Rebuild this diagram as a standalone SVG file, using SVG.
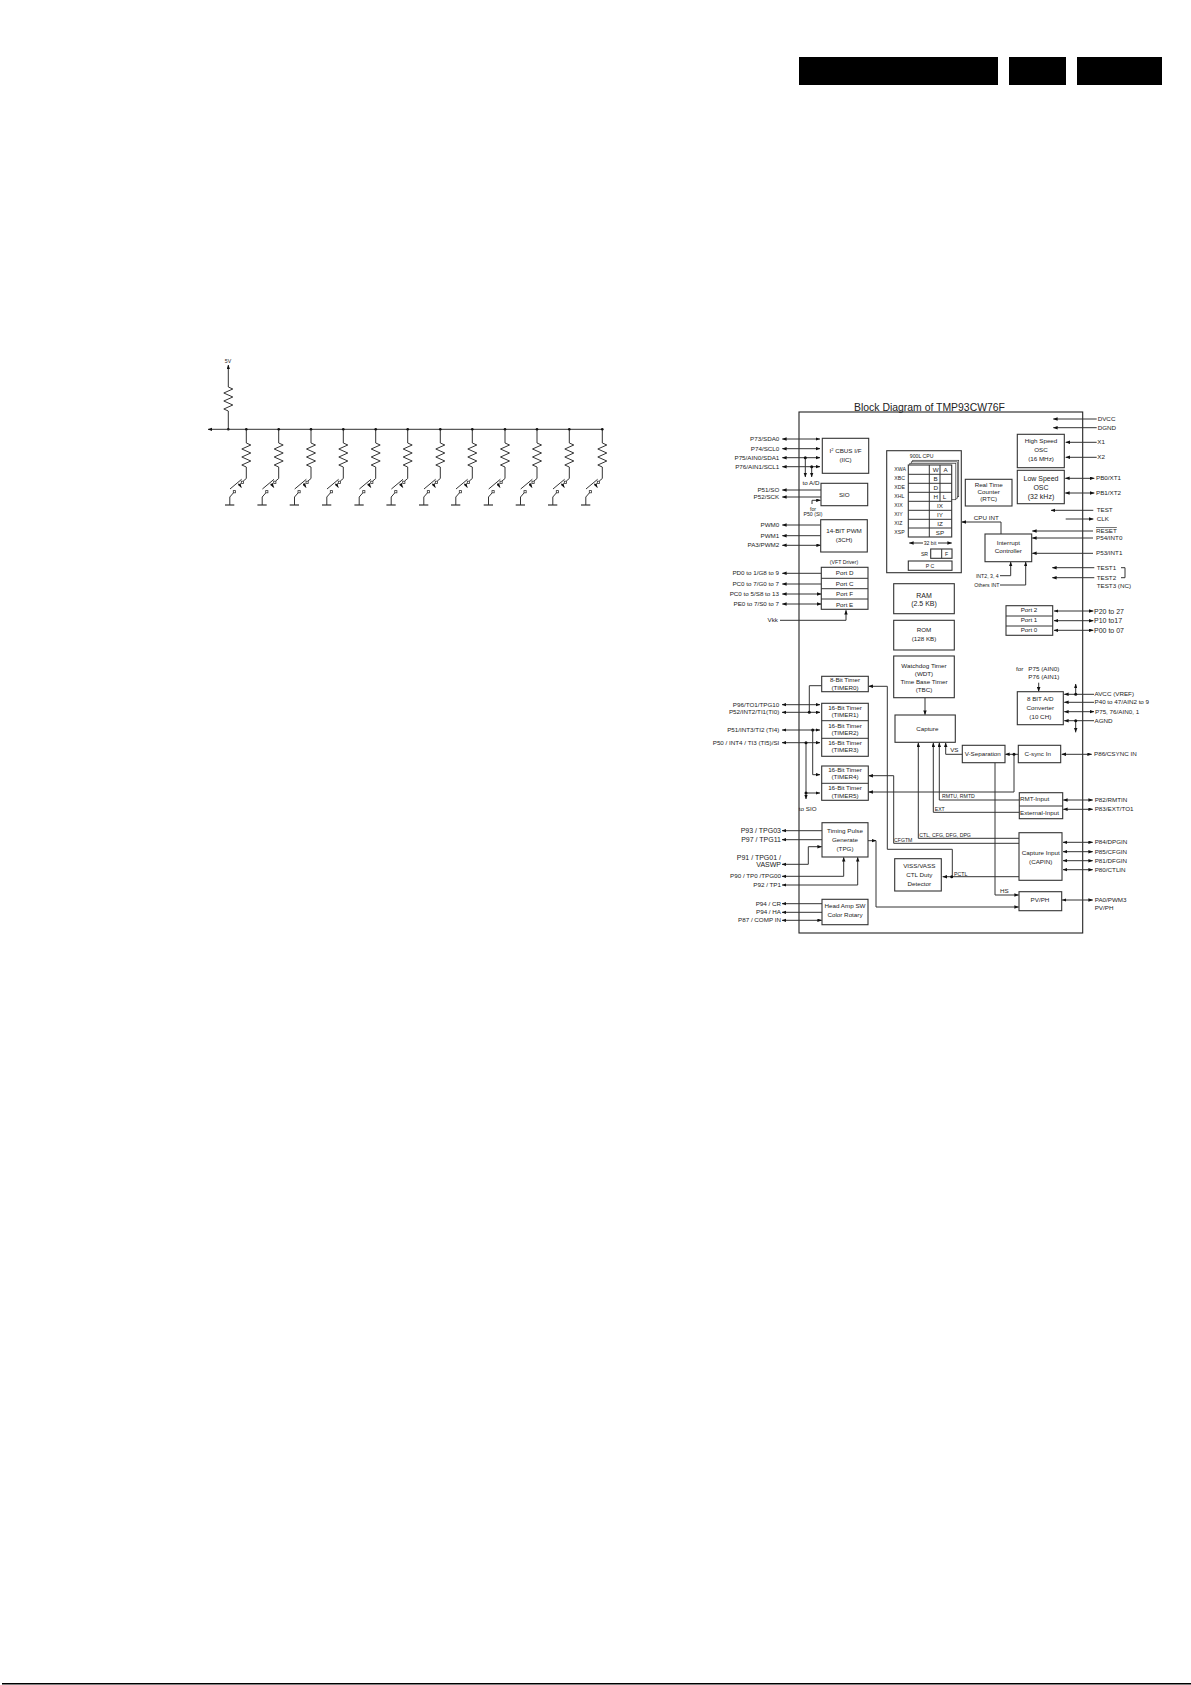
<svg xmlns="http://www.w3.org/2000/svg" xmlns:xlink="http://www.w3.org/1999/xlink" width="1191" height="1685" viewBox="0 0 1191 1685">
<style>
text{font-family:"Liberation Sans",Arial,sans-serif;font-size:6.25px;fill:#222}
.m{text-anchor:middle}.e{text-anchor:end}.s5{font-size:5.2px}.s7{font-size:7px}
.b rect,rect.b{fill:#fff;stroke:#333;stroke-width:1.1}
.b rect.st{stroke-width:.7}
path{fill:none;stroke:#333;stroke-width:1}
.l{marker-start:url(#a)}.r{marker-end:url(#a)}
.lr{marker-start:url(#a);marker-end:url(#a)}
circle{fill:#111;stroke:none}
.k{fill:#000;stroke:none}
</style>
<defs>
<marker id="a" viewBox="0 0 8 6" refX="7.5" refY="3" markerWidth="4.6" markerHeight="3.6" markerUnits="userSpaceOnUse" orient="auto-start-reverse"><path d="M0,0L8,3L0,6Z" style="fill:#111;stroke:none"/></marker>
<path id="zz" d="M0,0l4.5,2l-9,4l9,4l-9,4l9,4l-9,4l4.5,2"/>
<g id="key">
<path d="M0,429.3V443"/><use xlink:href="#zz" y="443"/>
<path d="M0,467V478.5L-3,481"/>
<path d="M-16.3,489L-4.7,479.3"/>
<path class="r" d="M-7.5,483.5L-5,487.5"/>
<rect x="-5" y="481.2" width="2.2" height="2.2" style="fill:#fff;stroke:#333;stroke-width:.8"/>
<rect x="-13" y="490.6" width="2.2" height="2.2" style="fill:#fff;stroke:#333;stroke-width:.8"/>
<path d="M-13,493L-16.5,497V505"/>
<path d="M-21.3,505H-12" style="stroke-width:1.2"/>
<circle cx="0" cy="429.3" r="1.3"/>
</g>
</defs>
<rect width="1191" height="1685" fill="#fff"/>

<g id="header">
<rect class="k" x="799" y="57" width="199" height="28"/>
<rect class="k" x="1009" y="57" width="57" height="28"/>
<rect class="k" x="1077" y="57" width="85" height="28"/>
<rect class="k" x="2" y="1683" width="1189" height="1.5"/>
</g>

<g id="keypad">
<text class="m s5" x="228" y="362.5">5V</text>
<path class="r" d="M228.3,387V365"/><use xlink:href="#zz" x="228.3" y="387"/>
<path d="M228.3,411V429.3"/><circle cx="228.3" cy="429.3" r="1.3"/>
<path class="r" d="M602.3,429.3H208"/>
<use xlink:href="#key" x="246.3"/><use xlink:href="#key" x="278.7"/><use xlink:href="#key" x="311"/><use xlink:href="#key" x="343.3"/><use xlink:href="#key" x="375.7"/><use xlink:href="#key" x="407.7"/><use xlink:href="#key" x="440.3"/><use xlink:href="#key" x="472.3"/><use xlink:href="#key" x="505"/><use xlink:href="#key" x="537"/><use xlink:href="#key" x="569.3"/><use xlink:href="#key" x="602.3"/>
</g>

<text id="title" x="854" y="411" style="font-size:11px" textLength="151" lengthAdjust="spacingAndGlyphs">Block Diagram of TMP93CW76F</text>
<rect id="frame" x="799" y="412" width="283.7" height="521" fill="none" stroke="#222" stroke-width="1.1"/>

<g id="connectors">
<path class="lr" d="M782.3,439H820"/><path class="lr" d="M782.3,448.7H820"/><path class="lr" d="M782.3,457.7H820"/><path class="lr" d="M782.3,466.7H820"/>
<path class="r" d="M805.3,457.7V477"/><path class="r" d="M811.7,466.7V477"/>
<path class="l" d="M782.3,490H821"/><path class="l" d="M782.3,497H821"/>
<path class="r" d="M812,504V500.3H820.5"/>
<path class="l" d="M782.3,525H820.7"/><path class="l" d="M782.3,535.7H820.7"/><path class="lr" d="M782.3,545.3H820.7"/>
<path class="l" d="M782.3,573.3H821.3"/><path class="l" d="M782.3,584H821.3"/><path class="lr" d="M782.3,594H821.3"/><path class="lr" d="M782.3,604H821.3"/>
<path class="r" d="M780,620.3H846V610.3"/>
<path class="r" d="M1096.7,419H1053.3"/><path class="r" d="M1096.7,427.7H1053.3"/>
<path class="r" d="M1096.7,442.3H1065.7"/><path class="r" d="M1096.7,457.3H1065.7"/>
<path class="lr" d="M1065.3,478.3H1094.3"/><path class="lr" d="M1065.3,493H1094.3"/>
<path class="r" d="M1093.3,510.3H1051"/><path class="r" d="M1065.7,519H1093.3"/>
<path class="r" d="M1093,531H1032.3"/><path class="r" d="M1093,538H1032.3"/><path class="r" d="M1093,553.3H1032.3"/>
<path class="r" d="M1094.3,567.7H1052.3"/><path class="r" d="M1094.3,577.7H1052.3"/>
<path d="M1121,567.7H1125V577.7H1121"/>
<path class="lr" d="M1054,611H1093.3"/><path class="lr" d="M1054,620.7H1093.3"/><path class="lr" d="M1054,630.3H1093.3"/>
<path class="r" d="M1001,534V522H961.8"/>
<path class="r" d="M1000,575.7H1010.7V562"/><path class="r" d="M1000,585H1025.7V562"/>
<path class="lr" d="M782,704.7H820"/><path class="lr" d="M782,712.3H820"/><path class="lr" d="M782,730H820"/><path class="lr" d="M782,742.7H820"/>
<path d="M821.7,685.7H809.3V712.3"/>
<path class="r" d="M812.7,730V774.7H820"/>
<path class="r" d="M806,742.7V799"/><path class="r" d="M806,793H820"/>
<path class="r" d="M952.3,876.7V849.3H887.3V686.3H868.6"/>
<path class="r" d="M1019,843.3H893.7V775.7H868.6"/>
<path class="r" d="M1014,754.3V792H868.6"/>
<path class="r" d="M1018.3,754.3H1005.3"/>
<path class="r" d="M1019,838.3H918.3V742.7"/>
<path class="r" d="M1019.3,812.3H933.3V742.7"/>
<path class="r" d="M1019.3,800H939.3V742.7"/>
<path class="r" d="M962.3,754.3H945.7V742.7"/>
<path class="r" d="M995,762.7V895H1018.7"/>
<path class="r" d="M868,840.7H876"/>
<path class="r" d="M876,840.7V907H1018.7"/>
<path class="r" d="M1019,876.7H942.7"/>
<path class="r" d="M925,697.7V714.7"/>
<path class="r" d="M1038.7,682.7V691.4"/>
<path class="r" d="M1094,694.3H1064.3"/><path class="r" d="M1094,702.3H1064.3"/><path class="lr" d="M1064.3,711.7H1094"/><path class="r" d="M1094,720.7H1064.3"/>
<path class="r" d="M1075.7,694.3V684"/><path class="r" d="M1075.7,720.7V732.3"/>
<path class="lr" d="M1061.7,754.3H1091.7"/><path class="lr" d="M1063.3,800H1092.7"/><path class="lr" d="M1063.3,809.3H1092.7"/><path class="lr" d="M1063,842.3H1092.7"/><path class="lr" d="M1063,851.7H1092.7"/><path class="lr" d="M1063,860.7H1092.7"/><path class="lr" d="M1063,869.7H1092.7"/><path class="lr" d="M1062,900H1092.7"/>
<path class="l" d="M782,830.7H822"/><path class="l" d="M782,839.7H822"/>
<path class="lr" d="M782,864.3H808.3V846.7H821.7"/>
<path class="lr" d="M782,876.3H843.7V857.3"/><path class="lr" d="M782,885H857.7V857.3"/>
<path class="l" d="M782,903.7H822"/><path class="l" d="M782,912.3H822"/><path class="lr" d="M782,920.3H821.7"/>
<circle cx="805.3" cy="457.7" r="1.5"/><circle cx="811.7" cy="466.7" r="1.5"/>
<circle cx="809.3" cy="712.3" r="1.5"/><circle cx="812.7" cy="730" r="1.5"/><circle cx="806" cy="742.7" r="1.5"/><circle cx="806" cy="793" r="1.5"/>
<circle cx="951.7" cy="876.7" r="1.5"/><circle cx="1014" cy="754.3" r="1.5"/><circle cx="1075.7" cy="694.3" r="1.5"/><circle cx="1075.7" cy="720.7" r="1.5"/>
<text class="m" x="811" y="485">to A/D</text>
<text class="m s5" x="813" y="510.5">for</text><text class="m s5" x="813" y="515.5">P50 (SI)</text>
<text class="m" x="807.7" y="810.5">to SIO</text>
<text class="m" x="986.3" y="520">CPU INT</text>
<text class="e s5" x="998.7" y="577.5">INT2, 3, 4</text><text class="e s5" x="999.5" y="587">Others INT</text>
<text x="919.3" y="836.5" class="s5">CTL, CFG, DFG, DPG</text>
<text x="934.7" y="810.5" class="s5">EXT</text>
<text x="942" y="798" class="s5">RMTU, RMTD</text>
<text class="m" x="954.3" y="752">VS</text><text class="m" x="1004.3" y="893">HS</text>
<text x="894" y="842" class="s5">CFGTM</text>
<text x="954" y="875.5" class="s5">PCTL</text>
</g>

<g id="left-labels">
<text class="e" x="779.3" y="441">P73/SDA0</text><text class="e" x="779.3" y="450.7">P74/SCL0</text><text class="e" x="779.3" y="459.7">P75/AIN0/SDA1</text><text class="e" x="779.3" y="468.7">P76/AIN1/SCL1</text>
<text class="e" x="779.3" y="492">P51/SO</text><text class="e" x="779.3" y="499">P52/SCK</text>
<text class="e" x="779.3" y="527">PWM0</text><text class="e" x="779.3" y="537.7">PWM1</text><text class="e" x="779.3" y="547.3">PA3/PWM2</text>
<text class="e" x="779" y="575.3">PD0 to 1/G8 to 9</text><text class="e" x="779" y="586">PC0 to 7/G0 to 7</text><text class="e" x="779" y="596">PC0 to 5/S8 to 13</text><text class="e" x="779" y="606">PE0 to 7/S0 to 7</text>
<text class="e" x="778" y="622.3">Vkk</text>
<text class="e" x="779.3" y="706.7">P96/TO1/TPG10</text><text class="e" x="779.3" y="714.3">P52/INT2/TI1(TI0)</text><text class="e" x="779.3" y="732">P51/INT3/TI2 (TI4)</text><text class="e" x="779.3" y="744.7">P50 / INT4 / TI3 (TI5)/SI</text>
<text class="e s7" x="781" y="833">P93 / TPG03</text><text class="e s7" x="781" y="842">P97 / TPG11</text><text class="e s7" x="781" y="859.7">P91 / TPG01 /</text><text class="e s7" x="781" y="867.3">VASWP</text>
<text class="e" x="781" y="878.3">P90 / TP0  /TPG00</text><text class="e" x="781" y="887">P92 / TP1</text><text class="e" x="781" y="905.7">P94 / CR</text><text class="e" x="781" y="914.3">P94 / HA</text><text class="e" x="781" y="922.3">P87 / COMP IN</text>
</g>

<g id="right-labels">
<text x="1097.7" y="421">DVCC</text><text x="1097.7" y="429.7">DGND</text><text x="1097.3" y="444.3">X1</text><text x="1097.3" y="459.3">X2</text>
<text x="1096" y="480.3">PB0/XT1</text><text x="1096" y="495">PB1/XT2</text><text x="1096.7" y="512.3">TEST</text><text x="1096.7" y="521">CLK</text>
<text x="1096" y="533" text-decoration="overline">RESET</text><text x="1096" y="540">P54/INT0</text><text x="1096" y="555.3">P53/INT1</text>
<text x="1096.7" y="569.7">TEST1</text><text x="1096.7" y="579.7">TEST2</text><text x="1096.7" y="588">TEST3 (NC)</text>
<text class="s7" x="1094" y="613.5">P20 to 27</text><text class="s7" x="1094" y="623">P10 to17</text><text class="s7" x="1094" y="632.7">P00 to 07</text>
<text x="1016" y="671">for</text><text x="1028.3" y="671">P75 (AIN0)</text><text x="1028.3" y="679.3">P76 (AIN1)</text>
<text x="1094.5" y="696.3">AVCC (VREF)</text><text x="1094.5" y="704.3">P40 to 47/AIN2 to 9</text><text x="1095" y="713.7">P75, 76/AIN0, 1</text><text x="1094.5" y="722.7">AGND</text>
<text x="1094" y="756.3">P86/CSYNC IN</text><text x="1094.7" y="802">P82/RMTIN</text><text x="1094.7" y="811.3">P83/EXT/TO1</text>
<text x="1094.7" y="844.3">P84/DPGIN</text><text x="1094.7" y="853.7">P85/CFGIN</text><text x="1094.7" y="862.7">P81/DFGIN</text><text x="1094.7" y="871.7">P80/CTLIN</text>
<text x="1094.7" y="902">PA0/PWM3</text><text x="1094.7" y="909.5">PV/PH</text>
</g>

<g id="iic" class="b"><rect x="822.3" y="438.3" width="46.4" height="35"/><text class="m" x="845.5" y="453">I<tspan style="font-size:4px" dy="-2">2</tspan><tspan dy="2"> CBUS I/F</tspan></text><text class="m" x="845.5" y="462">(IIC)</text></g>
<g id="sio" class="b"><rect x="821" y="483.3" width="46.7" height="22.4"/><text class="m" x="844.3" y="496.5">SIO</text></g>
<g id="pwm" class="b"><rect x="820.7" y="519.7" width="46.6" height="32.3"/><text class="m" x="844" y="532.5">14-BIT PWM</text><text class="m" x="844" y="541.5">(3CH)</text></g>
<g id="ports-vft" class="b"><text class="m s5" x="844" y="564">(VFT Driver)</text><rect x="821.3" y="567.3" width="46.7" height="42"/><path d="M821.3,578.3H868M821.3,588.7H868M821.3,599H868"/><text class="m" x="844.6" y="575">Port D</text><text class="m" x="844.6" y="585.5">Port C</text><text class="m" x="844.6" y="596">Port F</text><text class="m" x="844.6" y="606.5">Port E</text></g>

<g id="cpu" class="b">
<rect x="886.7" y="450.7" width="74.6" height="122"/>
<rect class="st" x="912.7" y="460.3" width="46" height="36.4"/><rect class="st" x="911.3" y="461.8" width="46" height="36.4"/><rect class="st" x="909.8" y="463.3" width="46" height="36.4"/>
<rect x="908.3" y="465" width="43.4" height="72"/>
<path d="M908.3,474.3H951.7M908.3,483.3H951.7M908.3,492.3H951.7M908.3,501.3H951.7M908.3,510.3H951.7M908.3,519.3H951.7M908.3,528H951.7M929.3,465V537M940,465V501.3"/>
<text class="m s5" x="921.7" y="458">900L  CPU</text>
<text class="s5" x="894.3" y="471">XWA</text><text class="s5" x="894.3" y="480">XBC</text><text class="s5" x="894.3" y="489">XDE</text><text class="s5" x="894.3" y="498">XHL</text><text class="s5" x="894.3" y="507">XIX</text><text class="s5" x="894.3" y="516">XIY</text><text class="s5" x="894.3" y="525">XIZ</text><text class="s5" x="894.3" y="534">XSP</text>
<text class="m" x="935.7" y="472">W</text><text class="m" x="945.7" y="472">A</text><text class="m" x="935.7" y="481">B</text><text class="m" x="935.7" y="490">D</text><text class="m" x="935.7" y="499">H</text><text class="m" x="944.5" y="499">L</text>
<text class="m" x="940" y="508">IX</text><text class="m" x="940" y="517">IY</text><text class="m" x="940" y="525.7">IZ</text><text class="m" x="940" y="534.7">SP</text>
<path class="r" d="M923,543H909.3"/><path class="r" d="M938,543H951.7"/><text class="m s5" x="930" y="545">32 bit</text>
<text class="m s5" x="924.5" y="555.5">SR</text><rect x="930.7" y="549" width="21.3" height="9.3"/><path d="M941.7,549V558.3"/><text class="m s5" x="946.7" y="555.5">F</text>
<rect x="908.3" y="561" width="43.7" height="9.3"/><text class="m s5" x="930" y="567.5">P C</text>
</g>
<g id="ram" class="b"><rect x="893.7" y="583.7" width="60.6" height="30"/><text class="m s7" x="924" y="597.5">RAM</text><text class="m s7" x="924" y="606.2">(2.5 KB)</text></g>
<g id="rom" class="b"><rect x="893.7" y="620.3" width="60.6" height="29.7"/><text class="m" x="924" y="632">ROM</text><text class="m" x="924" y="640.5">(128 KB)</text></g>
<g id="wdt" class="b"><rect x="893.7" y="656" width="60.6" height="41.7"/><text class="m" x="924" y="667.5">Watchdog Timer</text><text class="m" x="924" y="675.5">(WDT)</text><text class="m" x="924" y="684">Time Base Timer</text><text class="m" x="924" y="692">(TBC)</text></g>
<g id="capture" class="b"><rect x="895" y="715" width="60.3" height="27.3"/><text class="m" x="927.3" y="731">Capture</text></g>
<g id="timer0" class="b"><rect x="821.7" y="676.3" width="46.6" height="15.4"/><text class="m" x="845" y="681.8">8-Bit Timer</text><text class="m" x="845" y="689.5">(TIMER0)</text></g>
<g id="timer123" class="b"><rect x="821.7" y="703.3" width="46.6" height="53"/><path d="M821.7,720.7H868.3M821.7,738.3H868.3"/><text class="m" x="845" y="709.5">16-Bit Timer</text><text class="m" x="845" y="717">(TIMER1)</text><text class="m" x="845" y="727.7">16-Bit Timer</text><text class="m" x="845" y="735">(TIMER2)</text><text class="m" x="845" y="744.7">16-Bit Timer</text><text class="m" x="845" y="752">(TIMER3)</text></g>
<g id="timer45" class="b"><rect x="821.7" y="766" width="46.6" height="34.3"/><path d="M821.7,783.3H868.3"/><text class="m" x="845" y="772">16-Bit Timer</text><text class="m" x="845" y="779.3">(TIMER4)</text><text class="m" x="845" y="790">16-Bit Timer</text><text class="m" x="845" y="797.7">(TIMER5)</text></g>
<g id="tpg" class="b"><rect x="822" y="822.7" width="46" height="34.3"/><text class="m" x="845" y="833">Timing Pulse</text><text class="m" x="845" y="842">Generate</text><text class="m" x="845" y="851">(TPG)</text></g>
<g id="viss" class="b"><rect x="894.7" y="858.7" width="46.6" height="32.3"/><text class="m" x="919.3" y="867.7">VISS/VASS</text><text class="m" x="919.3" y="876.7">CTL Duty</text><text class="m" x="919.3" y="885.7">Detector</text></g>
<g id="headamp" class="b"><rect x="822" y="899.3" width="46" height="25.4"/><text class="m" x="845" y="908">Head Amp SW</text><text class="m" x="845" y="917">Color Rotary</text></g>
<g id="hosc" class="b"><rect x="1017.3" y="434.3" width="47" height="33.4"/><text class="m" x="1041" y="442.7">High Speed</text><text class="m" x="1041" y="451.7">OSC</text><text class="m" x="1041" y="460.7">(16 MHz)</text></g>
<g id="losc" class="b"><rect x="1017.3" y="470.3" width="47" height="33.4"/><text class="m s7" x="1041" y="481">Low Speed</text><text class="m s7" x="1041" y="489.7">OSC</text><text class="m s7" x="1041" y="498.5">(32 kHz)</text></g>
<g id="rtc" class="b"><rect x="965.3" y="479.3" width="46.7" height="26.7"/><text class="m" x="988.7" y="486.7">Real Time</text><text class="m" x="988.7" y="494">Counter</text><text class="m" x="988.7" y="501.3">(RTC)</text></g>
<g id="intc" class="b"><rect x="985" y="534" width="46.7" height="27.7"/><text class="m" x="1008.3" y="544.7">Interrupt</text><text class="m" x="1008.3" y="553.3">Controller</text></g>
<g id="ports" class="b"><rect x="1006" y="605.7" width="46.7" height="29.6"/><path d="M1006,616H1052.7M1006,626H1052.7"/><text class="m" x="1029" y="612.3">Port 2</text><text class="m" x="1029" y="622.3">Port 1</text><text class="m" x="1029" y="632.3">Port 0</text></g>
<g id="adc" class="b"><rect x="1017.3" y="691.7" width="46" height="33"/><text class="m" x="1040.3" y="700.7">8 BIT A/D</text><text class="m" x="1040.3" y="709.7">Converter</text><text class="m" x="1040.3" y="718.7">(10 CH)</text></g>
<g id="csync" class="b"><rect x="1018.3" y="745.3" width="42.4" height="17.4"/><text class="m" x="1037.7" y="756">C-sync In</text></g>
<g id="vsep" class="b"><rect x="962.3" y="745.3" width="42.7" height="17.4"/><text class="m" x="982.7" y="756">V-Separation</text></g>
<g id="rmt" class="b"><rect x="1019.3" y="792.7" width="43.4" height="26"/><path d="M1019.3,806H1062.7"/><text x="1020" y="801">RMT-Input</text><text x="1020" y="814.5">External-Input</text></g>
<g id="capin" class="b"><rect x="1019" y="832.7" width="43" height="47.6"/><text class="m" x="1040.7" y="855.3">Capture Input</text><text class="m" x="1040.7" y="863.7">(CAPIN)</text></g>
<g id="pvph" class="b"><rect x="1019" y="891.7" width="42.7" height="19"/><text class="m" x="1040" y="902">PV/PH</text></g>
</svg>
